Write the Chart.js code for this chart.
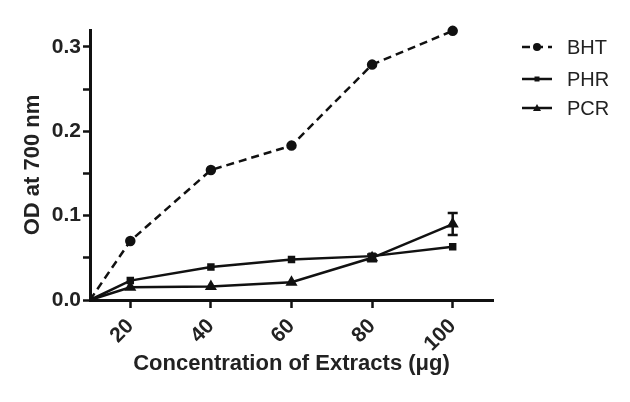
<!DOCTYPE html>
<html>
<head>
<meta charset="utf-8">
<script src="https://cdn.jsdelivr.net/npm/chart.js@4"></script>
<style>
  html, body { margin: 0; padding: 0; background: #fff; }
  #wrap { width: 630px; height: 402px; }
</style>
</head>
<body>
<div id="wrap"><canvas id="chart"></canvas></div>
<script>
const concentrations = [10, 20, 40, 60, 80, 100]
const bhtValues = [0, 0.070, 0.154, 0.183, 0.279, 0.319]
const phrValues = [0, 0.023, 0.039, 0.048, 0.052, 0.063]
const pcrValues = [0, 0.015, 0.016, 0.021, 0.050, 0.090]
const pcrErrors = [0, 0, 0, 0, 0.004, 0.013]
const xTickValues = [20, 40, 60, 80, 100]
const yTickValues = [0, 0.05, 0.1, 0.15, 0.2, 0.25, 0.3]

const toPoints = (vals) => vals.map((v, i) => ({x: concentrations[i], y: v}))
const radii = (r) => concentrations.map((c, i) => i === 0 ? 0 : r)

const errorBars = {
    id: 'errorBars',
    afterDatasetsDraw(chart) {
        const {ctx, scales: {x, y}} = chart
        chart.data.datasets.forEach(ds => {
            if (!ds.errors) return
            ctx.save()
            ctx.strokeStyle = '#111'
            ctx.lineWidth = 2.5
            ds.data.forEach((p, i) => {
                const e = ds.errors[i]
                if (!e) return
                const px = x.getPixelForValue(p.x)
                const top = y.getPixelForValue(p.y + e)
                const bot = y.getPixelForValue(p.y - e)
                ctx.beginPath()
                ctx.moveTo(px, top); ctx.lineTo(px, bot)
                ctx.moveTo(px - 5, top); ctx.lineTo(px + 5, top)
                ctx.moveTo(px - 5, bot); ctx.lineTo(px + 5, bot)
                ctx.stroke()
            })
            ctx.restore()
        })
    }
}

const sideLegend = {
    id: 'sideLegend',
    afterDraw(chart) {
        const ctx = chart.ctx
        const rows = [47, 79, 108]
        ctx.save()
        chart.data.datasets.forEach((ds, i) => {
            const yy = rows[i]
            ctx.strokeStyle = '#111'
            ctx.lineWidth = 2.5
            ctx.setLineDash(ds.borderDash || [])
            ctx.beginPath()
            ctx.moveTo(522, yy); ctx.lineTo(552, yy)
            ctx.stroke()
            ctx.setLineDash([])
            ctx.fillStyle = '#111'
            const r = ds.legendRadius
            if (ds.pointStyle === 'circle') {
                ctx.beginPath(); ctx.arc(537, yy, r, 0, Math.PI * 2); ctx.fill()
            } else if (ds.pointStyle === 'rect') {
                ctx.fillRect(537 - r, yy - r, 2 * r, 2 * r)
            } else {
                ctx.beginPath()
                ctx.moveTo(537, yy - r - 1); ctx.lineTo(537 + r + 1, yy + r); ctx.lineTo(537 - r - 1, yy + r)
                ctx.closePath(); ctx.fill()
            }
            ctx.font = '20px "Liberation Sans", Arial, sans-serif'
            ctx.textBaseline = 'middle'
            ctx.fillStyle = '#222'
            ctx.fillText(ds.label, 567, yy + 1)
        })
        ctx.restore()
    }
}

const boldFont = (size) => ({family: '"Liberation Sans", Arial, sans-serif', size: size, weight: 'bold'})

new Chart(document.getElementById('chart').getContext('2d'), {
    type: 'line',
    data: {
        datasets: [{
            label: 'BHT',
            data: toPoints(bhtValues),
            borderColor: '#111', backgroundColor: '#111',
            borderWidth: 2.5, borderDash: [8, 5], clip: false,
            pointStyle: 'circle', pointRadius: radii(4), legendRadius: 4
        }, {
            label: 'PHR',
            data: toPoints(phrValues),
            borderColor: '#111', backgroundColor: '#111',
            borderWidth: 2.5, clip: false,
            pointStyle: 'rect', pointRadius: radii(3.5), legendRadius: 2.5
        }, {
            label: 'PCR',
            data: toPoints(pcrValues),
            errors: pcrErrors,
            borderColor: '#111', backgroundColor: '#111',
            borderWidth: 2.5, clip: false,
            pointStyle: 'triangle', pointRadius: radii(4.5), legendRadius: 3
        }]
    },
    options: {
        responsive: true, maintainAspectRatio: false, animation: false,
        layout: {padding: {left: 14, right: 137, top: 30, bottom: 20}},
        plugins: {legend: {display: false}, tooltip: {enabled: false}},
        elements: {line: {tension: 0}},
        scales: {
            x: {
                type: 'linear', min: 10, max: 110,
                afterBuildTicks: (axis) => { axis.ticks = xTickValues.map(v => ({value: v})) },
                afterFit: (axis) => { axis.height = 82 },
                ticks: {minRotation: 45, maxRotation: 45, font: boldFont(21), color: '#222', padding: 6},
                grid: {drawOnChartArea: false, tickLength: 8, tickWidth: 2.5, tickColor: '#111'},
                border: {width: 3, color: '#111'},
                title: {display: true, text: 'Concentration of Extracts (μg)', font: boldFont(22), color: '#222', padding: {top: 0, bottom: 5}}
            },
            y: {
                min: 0, max: 0.32,
                afterBuildTicks: (axis) => { axis.ticks = yTickValues.map(v => ({value: v})) },
                afterFit: (axis) => { axis.width = 76 },
                ticks: {
                    font: boldFont(21), color: '#222', padding: 2,
                    callback: (v) => Math.abs(v * 10 - Math.round(v * 10)) < 1e-6 ? v.toFixed(1) : ''
                },
                grid: {drawOnChartArea: false, tickLength: 7, tickWidth: 2.5, tickColor: '#111'},
                border: {width: 3, color: '#111'},
                title: {display: true, text: 'OD at 700 nm', font: boldFont(22), color: '#222', padding: {top: 6, bottom: 0}}
            }
        }
    },
    plugins: [errorBars, sideLegend]
})
</script>
</body>
</html>
